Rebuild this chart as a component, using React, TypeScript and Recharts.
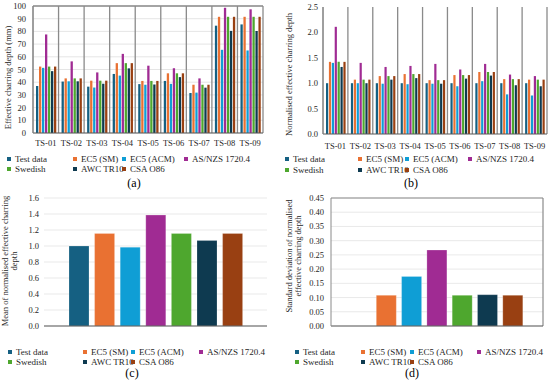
import React from 'react';
import { BarChart, Bar, XAxis, YAxis, CartesianGrid } from 'recharts';

const categories = ['TS-01', 'TS-02', 'TS-03', 'TS-04', 'TS-05', 'TS-06', 'TS-07', 'TS-08', 'TS-09'];
const seriesNames = ['Test data', 'EC5 (SM)', 'EC5 (ACM)', 'AS/NZS 1720.4', 'Swedish', 'AWC TR10', 'CSA O86'];
const seriesKeys = ['test', 'sm', 'acm', 'asnzs', 'swedish', 'awc', 'csa'];
const seriesColors = ['#156082', '#E97132', '#0F9ED5', '#A02B93', '#4EA72E', '#0E3A50', '#994012'];

// (a) effective charring depth (mm)
const depthTest = [37, 40.5, 36.5, 46.5, 38.5, 41, 31.5, 84.5, 85.5];
const depthSM = [52.3, 43, 41.2, 55, 41, 47, 38, 91.5, 91.5];
const depthACM = [51.3, 40.7, 35.8, 45.2, 38, 38.7, 31.8, 65.5, 65];
const depthASNZS = [77.6, 56.4, 47.7, 62.3, 53, 51, 43, 98.6, 97.4];
const depthSwedish = [52.3, 43, 41.2, 55, 41, 47, 38, 91.5, 91.5];
const depthAWC = [48.7, 40.7, 38.8, 50.9, 38.2, 44, 35.7, 80.4, 80.4];
const depthCSA = [52.3, 43, 41.2, 55, 41, 47, 38, 91.5, 91.5];

// (b) normalised effective charring depth
const normTest = [1, 1, 1, 1, 1, 1, 1, 1, 1];
const normSM = [1.42, 1.07, 1.14, 1.18, 1.06, 1.16, 1.22, 1.08, 1.07];
const normACM = [1.4, 1.0, 0.99, 0.98, 0.99, 0.94, 1.04, 0.78, 0.76];
const normASNZS = [2.11, 1.4, 1.32, 1.34, 1.38, 1.27, 1.38, 1.17, 1.14];
const normSwedish = [1.42, 1.07, 1.14, 1.18, 1.06, 1.16, 1.22, 1.08, 1.07];
const normAWC = [1.32, 1.0, 1.07, 1.1, 0.99, 1.09, 1.15, 0.96, 0.94];
const normCSA = [1.42, 1.07, 1.14, 1.18, 1.06, 1.16, 1.22, 1.08, 1.07];

// (c) mean and (d) standard deviation, one value per series
const meanValues = [1.0, 1.156, 0.985, 1.386, 1.156, 1.068, 1.156];
const sdValues = [0, 0.108, 0.174, 0.267, 0.108, 0.11, 0.108];

const ticksA = [0, 10, 20, 30, 40, 50, 60, 70, 80, 90, 100];
const ticksB = [0, 0.5, 1.0, 1.5, 2.0, 2.5];
const ticksC = [0, 0.2, 0.4, 0.6, 0.8, 1.0, 1.2, 1.4, 1.6];
const ticksD = [0, 0.05, 0.1, 0.15, 0.2, 0.25, 0.3, 0.35, 0.4, 0.45];

const seriesA = [depthTest, depthSM, depthACM, depthASNZS, depthSwedish, depthAWC, depthCSA];
const seriesB = [normTest, normSM, normACM, normASNZS, normSwedish, normAWC, normCSA];

const buildTable = (series: number[][]) =>
  categories.map((name, i) => {
    const row: Record<string, any> = { name };
    seriesKeys.forEach((k, j) => (row[k] = series[j][i]));
    return row;
  });
const buildSingle = (values: number[]) => {
  const row: Record<string, any> = { name: '' };
  seriesKeys.forEach((k, j) => (row[k] = values[j]));
  return [row];
};

const dataA = buildTable(seriesA);
const dataB = buildTable(seriesB);
const dataC = buildSingle(meanValues);
const dataD = buildSingle(sdValues);

const FONT = '"Liberation Serif", "Times New Roman", serif';
const TXT = '#262626';
const tickStyle = { fontFamily: FONT, fontSize: 8.5, fill: TXT };

const yLabel = (lines: string[], x: number, shift: number, lh: number) => (props: any) => {
  const vb = props.viewBox || {};
  const cy = vb.y + vb.height / 2 + shift;
  return (
    <text
      x={x}
      y={cy}
      transform={`rotate(-90 ${x} ${cy})`}
      textAnchor="middle"
      fontFamily={FONT}
      fontSize={8.5}
      fill={TXT}
    >
      {lines.map((l, i) => (
        <tspan key={i} x={x} dy={i === 0 ? 0 : lh}>
          {l}
        </tspan>
      ))}
    </text>
  );
};

const separators = (n: number) => ({ offset }: any) =>
  Array.from({ length: n + 1 }, (_, i) => offset.left + (i * offset.width) / n);
const topLine = ({ offset }: any) => [offset.top];
const rightLine = ({ offset }: any) => [offset.left + offset.width];

type LegendProps = { left: number; top: number; cols: number[]; rowGap: number };
const HtmlLegend = ({ left, top, cols, rowGap }: LegendProps) => (
  <div style={{ position: 'absolute', left, top, width: 1, height: 1 }}>
    {seriesNames.map((n, i) => {
      const col = i < 4 ? i : i - 4;
      const row = i < 4 ? 0 : 1;
      return (
        <div
          key={n}
          style={{
            position: 'absolute',
            left: cols[col],
            top: row * rowGap - 6,
            height: 12,
            display: 'flex',
            alignItems: 'center',
            whiteSpace: 'nowrap',
            fontFamily: FONT,
            fontSize: 9,
            color: TXT,
          }}
        >
          <span style={{ display: 'inline-block', width: 4, height: 4, background: seriesColors[i], marginRight: 4 }} />
          <span>{n}</span>
        </div>
      );
    })}
  </div>
);

const Caption = ({ x, y, text }: { x: number; y: number; text: string }) => (
  <div
    style={{
      position: 'absolute',
      left: x - 20,
      top: y - 8,
      width: 40,
      height: 16,
      lineHeight: '16px',
      textAlign: 'center',
      fontFamily: FONT,
      fontSize: 12,
      color: '#000',
    }}
  >
    {text}
  </div>
);

const bars = (size: number, strokeLight: boolean) =>
  seriesKeys.map((k, i) => (
    <Bar
      key={k}
      dataKey={k}
      fill={seriesColors[i]}
      barSize={size}
      isAnimationActive={false}
      stroke={strokeLight ? 'rgba(255,255,255,0.35)' : undefined}
      strokeWidth={strokeLight ? 0.6 : 0}
    />
  ));

export default function App() {
  return (
    <div style={{ position: 'absolute', left: 0, top: 0, width: 550, height: 385, background: '#fff', overflow: 'hidden' }}>
      {/* (a) */}
      <div style={{ position: 'absolute', left: 0, top: 0 }}>
        <BarChart width={270} height={150} data={dataA} margin={{ top: 6, right: 7, bottom: 2, left: 0 }} barGap={0.7}>
          <CartesianGrid horizontal vertical={false} stroke="#dedede" strokeWidth={0.8} />
          <CartesianGrid
            horizontal
            vertical
            horizontalCoordinatesGenerator={topLine}
            verticalCoordinatesGenerator={separators(categories.length)}
            stroke="#8a8a8a"
            strokeWidth={1.3}
          />
          <XAxis
            dataKey="name"
            height={15}
            tickLine={false}
            tickSize={5}
            tickMargin={2}
            axisLine={{ stroke: '#595959', strokeWidth: 1 }}
            tick={tickStyle}
            interval={0}
          />
          <YAxis
            width={33}
            domain={[0, 100]}
            ticks={ticksA}
            interval={0}
            tickLine={false}
            tickSize={5}
            tickMargin={2}
            axisLine={{ stroke: '#8a8a8a', strokeWidth: 1 }}
            tick={tickStyle}
            label={{ content: yLabel(['Effective charring depth (mm)'], 11, 8, 9) }}
          />
          {bars(2.3, false)}
        </BarChart>
      </div>

      {/* (b) */}
      <div style={{ position: 'absolute', left: 275, top: 0 }}>
        <BarChart width={275} height={150} data={dataB} margin={{ top: 7, right: 3, bottom: 2, left: 0 }} barGap={0.7}>
          <CartesianGrid
            horizontal={false}
            vertical
            verticalCoordinatesGenerator={separators(categories.length)}
            stroke="#8a8a8a"
            strokeWidth={1.3}
          />
          <XAxis
            dataKey="name"
            height={14}
            tickLine={false}
            tickSize={7}
            tickMargin={2}
            axisLine={{ stroke: '#595959', strokeWidth: 1 }}
            tick={tickStyle}
            interval={0}
          />
          <YAxis
            width={48}
            domain={[0, 2.5]}
            ticks={ticksB}
            interval={0}
            tickLine={false}
            tickSize={3}
            tickMargin={2}
            axisLine={{ stroke: '#8a8a8a', strokeWidth: 1 }}
            tick={tickStyle}
            tickFormatter={(v: number) => v.toFixed(1)}
            label={{ content: yLabel(['Normalised effective charring depth'], 17, 4, 9) }}
          />
          {bars(2.2, false)}
        </BarChart>
      </div>

      {/* (c) */}
      <div style={{ position: 'absolute', left: 0, top: 190 }}>
        <BarChart width={275} height={145} data={dataC} margin={{ top: 8, right: 8, bottom: 2, left: 0 }} barGap={5.6}>
          <CartesianGrid horizontal vertical={false} stroke="#e3e3e3" strokeWidth={0.8} />
          <XAxis dataKey="name" height={7} tick={false} tickLine={false} axisLine={{ stroke: '#595959', strokeWidth: 1 }} />
          <YAxis
            width={44}
            domain={[0, 1.6]}
            ticks={ticksC}
            interval={0}
            tickLine={false}
            axisLine={false}
            tickSize={3}
            tickMargin={2}
            tick={tickStyle}
            tickFormatter={(v: number) => v.toFixed(1)}
            label={{ content: yLabel(['Mean of normalised effective charring', 'depth'], 8, -1, 9) }}
          />
          {bars(20, true)}
        </BarChart>
      </div>

      {/* (d) */}
      <div style={{ position: 'absolute', left: 275, top: 190 }}>
        <BarChart width={275} height={145} data={dataD} margin={{ top: 8, right: 7, bottom: 2, left: 0 }} barGap={5.3}>
          <CartesianGrid horizontal vertical={false} stroke="#e3e3e3" strokeWidth={0.8} />
          <CartesianGrid
            horizontal
            vertical
            horizontalCoordinatesGenerator={topLine}
            verticalCoordinatesGenerator={rightLine}
            stroke="#8a8a8a"
            strokeWidth={1.2}
          />
          <XAxis dataKey="name" height={7} tick={false} tickLine={false} axisLine={{ stroke: '#595959', strokeWidth: 1 }} />
          <YAxis
            width={56}
            domain={[0, 0.45]}
            ticks={ticksD}
            interval={0}
            tickLine={false}
            axisLine={{ stroke: '#8a8a8a', strokeWidth: 1 }}
            tickSize={5}
            tickMargin={2}
            tick={tickStyle}
            tickFormatter={(v: number) => v.toFixed(2)}
            label={{ content: yLabel(['Standard deviation of normalised', 'effective charring depth'], 17, -6, 8.5) }}
          />
          {bars(20, true)}
        </BarChart>
      </div>

      <HtmlLegend left={0} top={159} cols={[7, 73, 122, 184]} rowGap={9.5} />
      <HtmlLegend left={275} top={159} cols={[10, 83, 130, 193]} rowGap={10.5} />
      <HtmlLegend left={0} top={352} cols={[8, 83, 131, 199]} rowGap={10} />
      <HtmlLegend left={275} top={352} cols={[20, 86, 135, 202]} rowGap={10} />

      <Caption x={134} y={183} text="(a)" />
      <Caption x={411} y={183} text="(b)" />
      <Caption x={132} y={373} text="(c)" />
      <Caption x={412} y={373} text="(d)" />
    </div>
  );
}
